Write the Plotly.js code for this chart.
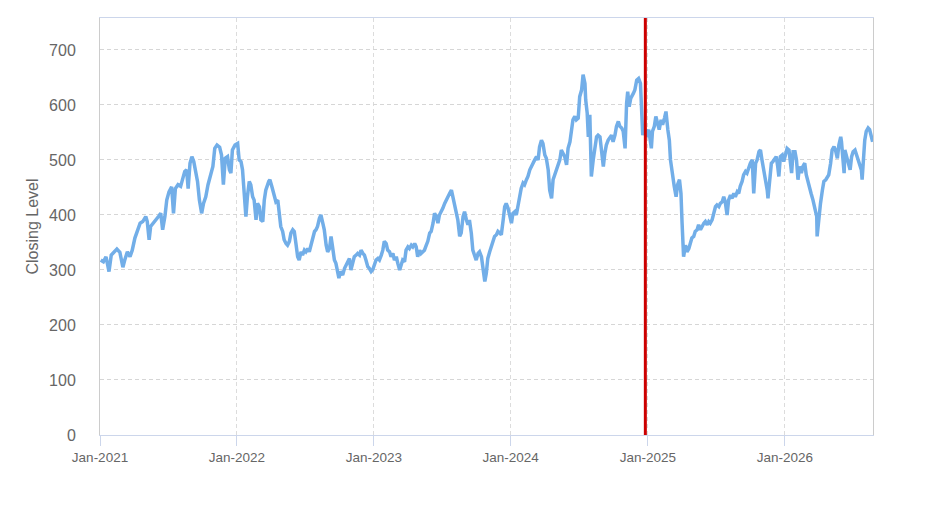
<!DOCTYPE html>
<html>
<head>
<meta charset="utf-8">
<script src="https://cdn.plot.ly/plotly-3.0.1.min.js"></script>
<style>
  html, body { margin: 0; padding: 0; background: #ffffff; }
  #chart { width: 935px; height: 525px; }
</style>
</head>
<body>
<div id="chart"></div>
<script>
// ---- Data (day-of-year offsets from 1 Jan of each year, closing levels) ----
const days2021 = [2,9,16,24,30,37,45,53,61,66,73,80,86,93,100,107,114,122,126,131,135,142,150,157,162,167,173,178,184,191,196,201,208,215,221,226,231,235,240,245,250,255,260,265,271,276,282,288,296,301,306,312,319,324,329,334,340,345,349,353,360];
const close2021 = [318,315,324,297,327,333,338,332,305,318,333,324,336,358,373,385,388,397,388,355,379,385,390,398,403,373,397,427,442,451,403,448,455,452,467,479,482,448,494,506,497,476,461,427,403,421,433,455,473,488,521,527,523,509,455,503,506,482,476,518,527];

const days2022 = [2,6,11,15,20,24,28,33,37,42,46,51,55,60,64,69,73,77,85,88,93,100,104,109,113,117,122,126,131,135,140,144,149,153,158,162,166,171,175,180,184,189,193,198,202,207,211,215,220,224,229,233,238,242,247,251,255,260,264,269,272,276,282,287,291,296,300,304,309,313,318,322,327,331,336,340,344,349,353,358,362];
const close2022 = [530,500,497,482,439,397,433,461,455,433,427,391,421,415,391,388,427,445,461,464,452,436,424,427,397,379,370,355,348,345,352,367,373,370,345,324,318,333,327,336,333,339,333,345,355,370,373,379,394,400,385,373,345,333,339,361,342,318,312,297,285,297,291,303,309,318,321,300,312,324,327,330,327,336,330,327,318,306,303,297,300];

const days2023 = [2,6,11,15,20,24,28,33,37,42,46,51,55,60,64,69,73,77,82,86,91,95,100,104,109,113,117,122,126,131,135,140,144,149,153,158,162,167,171,175,180,184,189,193,198,202,207,211,216,220,224,229,233,238,242,247,251,255,260,264,269,273,278,282,287,291,296,300,304,309,313,318,322,327,331,336,340,345,349,353,358,362];
const close2023 = [309,318,321,318,327,336,352,348,336,333,324,330,318,324,312,300,309,318,315,336,342,339,345,342,348,342,324,336,330,333,336,345,352,367,370,385,403,397,385,400,406,412,421,427,436,439,445,433,415,400,391,361,367,397,406,391,382,391,367,336,324,318,330,333,324,303,279,294,321,333,342,355,361,364,370,367,364,391,415,421,412,400];

const days2024 = [2,6,11,15,20,24,28,33,37,42,46,51,55,60,64,69,73,77,82,86,91,95,100,104,109,113,118,122,127,131,135,140,144,149,153,158,162,166,171,175,180,184,189,193,198,200,204,207,211,215,220,224,229,233,238,242,247,251,255,260,264,269,273,278,282,287,291,296,300,305,309,312,316,320,327,331,336,341,346,348,352,356,361];
const close2024 = [385,403,406,400,421,439,448,458,455,464,470,482,488,497,500,506,500,524,536,530,509,503,482,445,430,464,473,482,491,500,518,512,506,491,521,533,552,573,579,573,576,615,627,655,639,609,585,542,582,470,500,524,542,545,542,518,488,512,527,536,539,545,533,545,561,570,561,558,552,521,603,624,597,612,621,627,645,648,639,603,545,561,542];

const days2025 = [2,6,9,12,17,21,26,30,35,39,44,48,53,57,60,64,67,70,75,79,84,88,91,95,100,104,109,113,117,122,126,131,135,140,144,149,153,158,162,166,171,175,180,184,189,193,198,202,206,211,215,220,224,229,233,238,242,246,251,255,260,264,269,273,278,282,287,291,296,300,304,309,313,318,320,324,329,333,337,342,346,349,353,358,362];
const close2025 = [555,527,521,552,561,579,564,555,573,564,576,588,555,536,500,476,464,452,433,455,464,439,385,324,345,333,339,352,358,361,370,373,382,373,379,385,388,382,388,385,391,403,415,418,415,421,424,433,424,400,427,436,430,439,433,442,439,452,461,473,479,476,488,494,500,439,494,500,515,518,500,482,467,445,430,467,494,497,500,506,488,470,506,509,497];

const days2026 = [2,6,11,15,18,22,27,31,35,39,44,48,53,57,61,66,70,75,79,82,85,86,89,92,95,100,104,109,113,117,122,126,131,135,140,144,149,151,155,158,160,165,169,174,178,182,187,191,196,200,204,206,209,213,217,222,226,231,234];
const close2026 = [512,521,518,500,476,515,515,500,464,488,476,488,494,473,464,452,439,427,415,403,397,361,385,400,421,445,461,464,470,473,494,518,524,518,503,527,542,533,500,476,518,506,494,482,506,515,518,509,500,494,482,464,500,536,552,558,555,539,533];

const seriesByYear = [
  [2021, days2021, close2021],
  [2022, days2022, close2022],
  [2023, days2023, close2023],
  [2024, days2024, close2024],
  [2025, days2025, close2025],
  [2026, days2026, close2026]
];

const markerDate = '2024-12-25';
const axisStart = '2021-01-01';
const axisEnd = '2026-08-24';
const yTickLabels = ['0','100','200','300','400','500','600','700'];
const yTickValues = [0,100,200,300,400,500,600,700];
const xTickValues = ['2021-01-01','2022-01-01','2023-01-01','2024-01-01','2025-01-01','2026-01-01'];
const xTickLabels = ['Jan-2021','Jan-2022','Jan-2023','Jan-2024','Jan-2025','Jan-2026'];

// ---- Build trace ----
const xs = [], ys = [];
seriesByYear.forEach(([yr, ds, vs]) => {
  ds.forEach((d, i) => {
    const t = new Date(Date.UTC(yr, 0, 1) + d * 86400000);
    xs.push(t.toISOString().slice(0, 10));
    ys.push(vs[i]);
  });
});

const FONT = '"Liberation Sans", Arial, Helvetica, sans-serif';

const trace = {
  x: xs, y: ys,
  type: 'scatter', mode: 'lines',
  line: { color: '#72aee8', width: 3.5 },
  hoverinfo: 'skip'
};

const layout = {
  width: 935, height: 525,
  margin: { l: 100, r: 62, t: 18, b: 90 },
  paper_bgcolor: '#ffffff', plot_bgcolor: '#ffffff',
  showlegend: false,
  font: { family: FONT, color: '#666666' },
  xaxis: {
    type: 'date',
    range: [axisStart, axisEnd],
    tickvals: xTickValues,
    ticktext: xTickLabels,
    ticks: 'outside', ticklen: 10, tickcolor: '#ccd6eb', tickwidth: 1,
    tickfont: { family: FONT, size: 13.5, color: '#666666' },
    showgrid: true, gridcolor: '#dcdcdc', griddash: '4px,3px', gridwidth: 1,
    showline: true, linecolor: '#ccd6eb', linewidth: 1, mirror: true,
    zeroline: false, fixedrange: true
  },
  yaxis: {
    range: [0, 758],
    tickvals: yTickValues,
    ticktext: yTickLabels,
    ticks: '', ticklabelstandoff: 20,
    tickfont: { family: FONT, size: 16, color: '#666666' },
    showgrid: true, gridcolor: '#d6d6d6', griddash: '4px,3px', gridwidth: 1,
    showline: true, linecolor: '#cccccc', linewidth: 1, mirror: true,
    zeroline: false, fixedrange: true,
    title: { text: 'Closing Level', font: { family: FONT, size: 16, color: '#666666' }, standoff: 6 }
  },
  shapes: [{
    type: 'line', xref: 'x', yref: 'paper',
    x0: markerDate, x1: markerDate, y0: 0, y1: 1,
    line: { color: '#cc0000', width: 3 }
  }]
};

Plotly.newPlot('chart', [trace], layout, { staticPlot: true, displayModeBar: false });
</script>
</body>
</html>
